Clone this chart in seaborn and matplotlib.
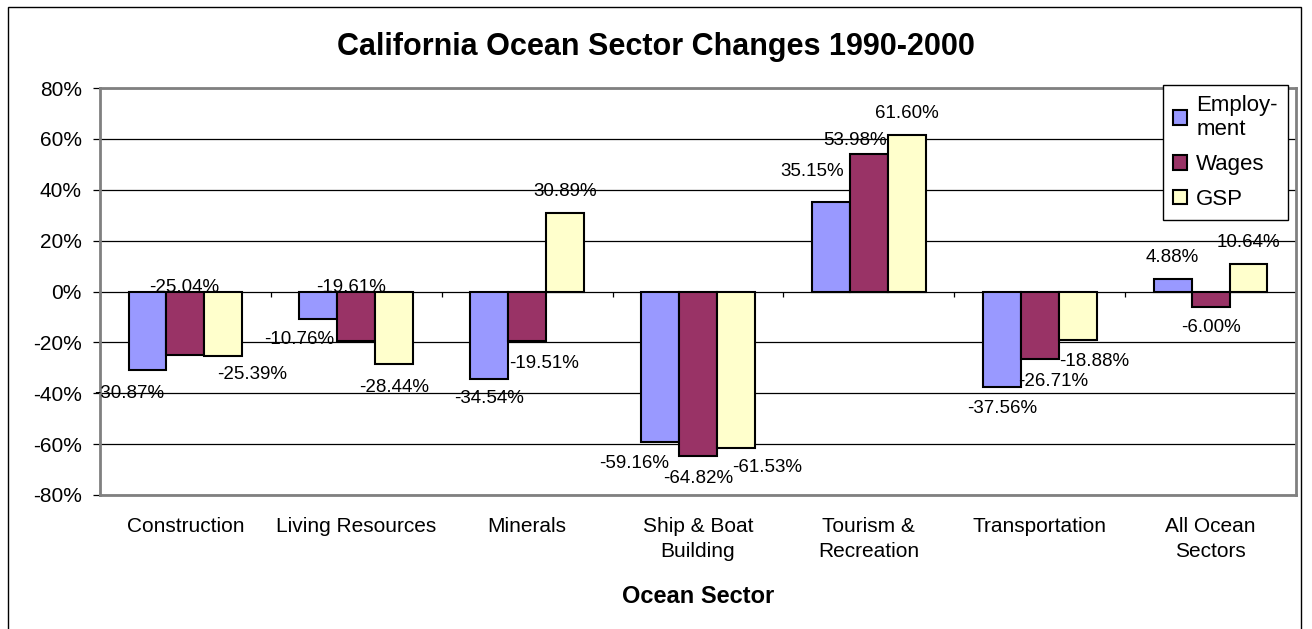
import numpy as np
import pandas as pd
import seaborn as sns
import matplotlib.pyplot as plt
from matplotlib.patches import Rectangle

# ------------ data ------------
sectors = ["Construction", "Living Resources", "Minerals", "Ship & Boat\nBuilding",
           "Tourism &\nRecreation", "Transportation", "All Ocean\nSectors"]
series = ["Employment", "Wages", "GSP"]
employment = [-30.87, -10.76, -34.54, -59.16, 35.15, -37.56, 4.88]
wages = [-25.04, -19.61, -19.51, -64.82, 53.98, -26.71, -6.00]
gsp = [-25.39, -28.44, 30.89, -61.53, 61.60, -18.88, 10.64]
yticks = [-80, -60, -40, -20, 0, 20, 40, 60, 80]

colors = {"Employment": "#9999FF", "Wages": "#993366", "GSP": "#FFFFCC"}
legend_labels = ["Employ-\nment", "Wages", "GSP"]

# where Excel put each value label (x shift in category units, y in data units)
label_dx = [[-0.11, -0.11, 0.0, -0.15, -0.11, 0.0, 0.0],
            [-0.01, -0.03, 0.10, 0.0, -0.08, 0.08, 0.0],
            [0.17, 0.0, 0.0, 0.18, 0.0, 0.10, 0.0]]
label_y = [[-40.0, -18.9, -41.9, -67.7, 47.3, -46.1, 13.4],
           [1.7, 1.7, -28.4, -73.6, 59.4, -35.3, -14.3],
           [-32.6, -37.6, 39.4, -69.1, 70.1, -27.4, 19.3]]

df = pd.DataFrame({
    "sector": sectors * 3,
    "series": np.repeat(series, len(sectors)),
    "change": employment + wages + gsp,
})

# ------------ figure ------------
sns.set_theme(style="white")
plt.rcParams["font.family"] = ["Liberation Sans", "DejaVu Sans"]
plt.rcParams.update({"text.color": "black", "axes.labelcolor": "black",
                     "xtick.color": "black", "ytick.color": "black"})

W, H = 1312, 629
fig = plt.figure(figsize=(W / 100, H / 100), dpi=100)
ax = fig.add_axes([100 / W, 1 - 495 / H, 1196 / W, 407 / H])

bar_w = 0.665
sns.barplot(data=df, x="sector", y="change", hue="series", order=sectors,
            hue_order=series, palette=colors, width=bar_w, saturation=1,
            edgecolor="black", linewidth=1.5, errorbar=None, ax=ax, zorder=3)

ax.set_ylim(-80, 80)
ax.set_xlim(-0.5, len(sectors) - 0.5)
ax.set_yticks(yticks)
ax.set_yticklabels([f"{t}%" for t in yticks])
ax.set_xticks(range(len(sectors)))
ax.set_xticklabels(sectors, linespacing=1.4)
ax.yaxis.grid(True, color="black", linewidth=0.9, zorder=0)
ax.set_axisbelow(True)
for s in ax.spines.values():
    s.set_color("#808080")
    s.set_linewidth(2)
    s.set_visible(True)
ax.tick_params(axis="y", left=True, length=5, width=0.9, color="black",
               pad=8, labelsize=15)
ax.tick_params(axis="x", bottom=False, length=0, pad=16, labelsize=15)

# category separators on the zero line
bounds = np.arange(len(sectors) + 1) - 0.5
ax.vlines(bounds, -2, 0, color="black", linewidth=0.9, zorder=2)

ax.set_xlabel("Ocean Sector", fontsize=17, fontweight="bold", labelpad=17)
ax.set_ylabel("")

# value labels
step = bar_w / len(series)
for j, vals in enumerate([employment, wages, gsp]):
    for i, v in enumerate(vals):
        x = i + (j - 1) * step + label_dx[j][i]
        ax.text(x, label_y[j][i], f"{v:.2f}%", ha="center", va="center",
                fontsize=13.5, zorder=5)

# legend
handles, _ = ax.get_legend_handles_labels()
leg = ax.legend(handles, legend_labels, loc="upper left",
                bbox_to_anchor=(1163 / W, 1 - 85 / H),
                bbox_transform=fig.transFigure, fontsize=16, frameon=True,
                fancybox=False, edgecolor="black", framealpha=1,
                handlelength=0.65, handleheight=0.65, handletextpad=0.4,
                labelspacing=0.62, borderpad=0.45, borderaxespad=0)
leg.get_frame().set_linewidth(1)
leg.set_zorder(10)

fig.text(656 / W, 1 - 47 / H, "California Ocean Sector Changes 1990-2000",
         ha="center", va="center", fontsize=22, fontweight="bold")

# outer chart border
fig.patches.append(Rectangle((8 / W, -0.02), 1293 / W, 1.02 - 7 / H,
                             transform=fig.transFigure, fill=False,
                             edgecolor="black", linewidth=1))

fig.savefig("out.png", dpi=100)
